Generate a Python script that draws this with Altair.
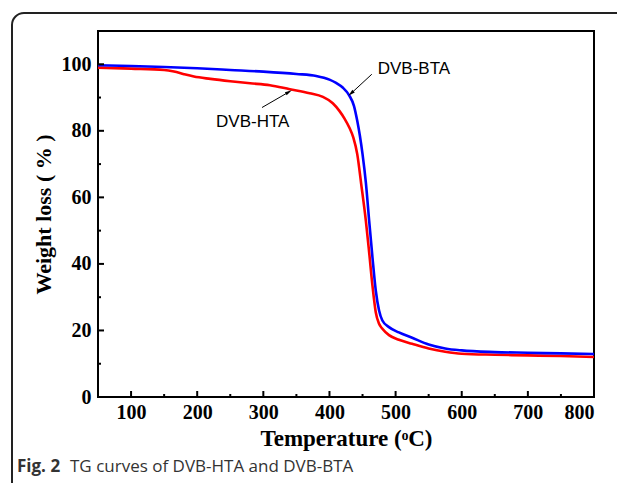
import altair as alt
import pandas as pd

# ---- data ----
bta_temp = [50, 100, 150, 200, 250, 300, 350, 380, 400, 410, 420, 430, 437, 442, 446, 450,
            455, 460, 465, 470, 475, 480, 490, 505, 525, 550, 575, 600, 650, 700, 750, 800]
bta_weight = [99.7, 99.5, 99.2, 98.8, 98.3, 97.8, 97.1, 96.5, 95.4, 94.4, 93.0, 90.6, 87.5, 83.0,
              78.5, 73.0, 64.5, 53.0, 42.0, 32.0, 26.0, 23.0, 21.0, 19.4, 17.8, 15.8, 14.6, 14.0,
              13.5, 13.3, 13.1, 12.9]

hta_temp = [50, 100, 150, 165, 180, 195, 220, 250, 280, 310, 340, 370, 390, 405, 415, 423, 430,
            436, 442, 448, 455, 460, 465, 470, 475, 480, 490, 505, 525, 550, 575, 600, 650, 700,
            750, 800]
hta_weight = [99.0, 98.7, 98.3, 97.8, 97.0, 96.3, 95.6, 94.9, 94.3, 93.7, 92.5, 91.3, 90.2, 88.3,
              86.0, 83.6, 81.0, 78.0, 73.0, 64.0, 53.0, 43.5, 33.5, 25.5, 22.0, 20.5, 18.6, 17.2,
              16.0, 14.6, 13.6, 13.0, 12.7, 12.5, 12.3, 12.0]

x_major = [100, 200, 300, 400, 500, 600, 700, 800]
x_minor = [150, 250, 350, 450, 550, 650, 750]
y_major = [20, 40, 60, 80, 100]
y_minor = [10, 30, 50, 70, 90]

series_names = ["DVB-HTA", "DVB-BTA"]
series_colors = ["#ff0000", "#0000ff"]

# annotations: label, text position, arrow start, arrow end (data coords)
ann_labels = ["DVB-BTA", "DVB-HTA"]
ann_text_x = [473, 284]
ann_text_y = [98.6, 82.7]
ann_x1 = [464, 298]
ann_y1 = [97.0, 87.0]
ann_x2 = [433, 338]
ann_y2 = [91.3, 91.6]
ann_angle = [227, 60]

caption_bold = "Fig. 2"
caption_rest = "TG curves of DVB-HTA and DVB-BTA"

W, H = 496, 366

df = pd.concat([
    pd.DataFrame({"T": hta_temp, "W": hta_weight, "s": series_names[0], "o": 0}),
    pd.DataFrame({"T": bta_temp, "W": bta_weight, "s": series_names[1], "o": 1}),
])

xs = alt.Scale(domain=[50, 800], nice=False, zero=False)
ys = alt.Scale(domain=[0, 110], nice=False)

lines = alt.Chart(df).mark_line(strokeWidth=2.6, interpolate="monotone").encode(
    x=alt.X("T:Q", scale=xs,
            axis=alt.Axis(values=x_major, title="Temperature (ᵒC)", titlePadding=5)),
    y=alt.Y("W:Q", scale=ys,
            axis=alt.Axis(values=[0] + y_major, title="Weight loss ( % )", titlePadding=6)),
    color=alt.Color("s:N", scale=alt.Scale(domain=series_names, range=series_colors), legend=None),
    detail="s:N",
    order="o:Q",
)

xt_major = alt.Chart(pd.DataFrame({"v": x_major})).mark_rule(color="black", strokeWidth=2).encode(
    x=alt.X("v:Q", scale=xs), y=alt.value(H), y2=alt.value(H - 6))
xt_minor = alt.Chart(pd.DataFrame({"v": x_minor})).mark_rule(color="black", strokeWidth=2).encode(
    x=alt.X("v:Q", scale=xs), y=alt.value(H), y2=alt.value(H - 3))
yt_major = alt.Chart(pd.DataFrame({"v": y_major})).mark_rule(color="black", strokeWidth=2).encode(
    y=alt.Y("v:Q", scale=ys), x=alt.value(0), x2=alt.value(6))
yt_minor = alt.Chart(pd.DataFrame({"v": y_minor})).mark_rule(color="black", strokeWidth=2).encode(
    y=alt.Y("v:Q", scale=ys), x=alt.value(0), x2=alt.value(3))

ann = pd.DataFrame({"label": ann_labels, "tx": ann_text_x, "ty": ann_text_y,
                    "x1": ann_x1, "y1": ann_y1, "x2": ann_x2, "y2": ann_y2, "ang": ann_angle})

arrows = alt.Chart(ann).mark_rule(color="black", strokeWidth=1).encode(
    x=alt.X("x1:Q", scale=xs), y=alt.Y("y1:Q", scale=ys),
    x2="x2:Q", y2="y2:Q")
heads = alt.Chart(ann).mark_point(shape="M0,-1L0.45,0.8L-0.45,0.8Z", filled=True, color="black",
                                  size=60, opacity=1).encode(
    x=alt.X("x2:Q", scale=xs), y=alt.Y("y2:Q", scale=ys), angle=alt.Angle("ang:Q", scale=None))
txt_bta = alt.Chart(ann.iloc[[0]]).mark_text(align="left", baseline="middle", font="Liberation Sans",
                                              fontSize=17, color="black").encode(
    x=alt.X("tx:Q", scale=xs), y=alt.Y("ty:Q", scale=ys), text="label:N")
txt_hta = alt.Chart(ann.iloc[[1]]).mark_text(align="center", baseline="middle", font="Liberation Sans",
                                              fontSize=17, color="black").encode(
    x=alt.X("tx:Q", scale=xs), y=alt.Y("ty:Q", scale=ys), text="label:N")

one = alt.Data(values=[{}])
border = alt.Chart(one).mark_rect(fill=None, stroke="#222222", strokeWidth=2, cornerRadius=12).encode(
    x=alt.value(-86), x2=alt.value(545), y=alt.value(-18), y2=alt.value(470))
cap1 = alt.Chart(one).mark_text(align="left", baseline="middle", font="Open Sans", fontSize=17,
                                fontWeight="bold", color="#333333").encode(
    x=alt.value(-81), y=alt.value(436), text=alt.value(caption_bold))
cap2 = alt.Chart(one).mark_text(align="left", baseline="middle", font="Open Sans", fontSize=17,
                                color="#333333").encode(
    x=alt.value(-28), y=alt.value(436), text=alt.value(caption_rest))

chart = alt.layer(border, lines, xt_major, xt_minor, yt_major, yt_minor,
                  arrows, heads, txt_bta, txt_hta, cap1, cap2).properties(
    width=W, height=H,
    padding={"left": 90, "top": 23, "right": 23, "bottom": 86},
    autosize="none",
).configure_view(stroke="black", strokeWidth=2).configure_axis(
    domain=False, ticks=False, grid=False,
    labelFont="Liberation Serif", labelFontWeight="bold", labelFontSize=20, labelColor="black",
    titleFont="Liberation Serif", titleFontWeight="bold", titleFontSize=23, titleColor="black",
    labelPadding=5,
).configure_axisY(labelPadding=7, titleFontSize=22)

chart.save("out.html", embed_options={"renderer": "svg", "actions": False})
